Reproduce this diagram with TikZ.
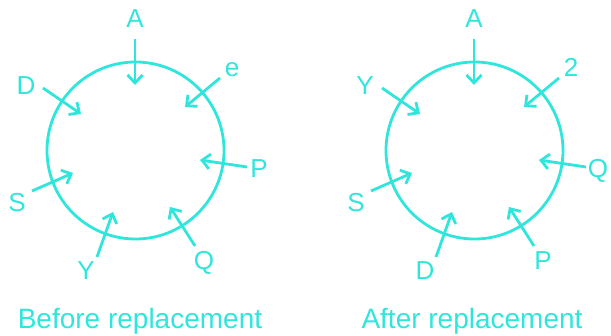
\documentclass[tikz,border=0pt]{standalone}
\usepackage{fontspec}
\setmainfont{Liberation Sans}
\usetikzlibrary{arrows.meta}
\definecolor{ringCyan}{HTML}{30E6DC}

\begin{document}
\begin{tikzpicture}[x=1pt, y=-1pt,
    ring/.style={draw=ringCyan, line width=2.8pt},
    inarrow/.style={draw=ringCyan, line width=2.8pt, -{Straight Barb[length=8pt, width=15pt]}},
    tag/.style={text=ringCyan, font=\fontsize{26}{31}\selectfont, inner sep=0pt, anchor=base},
    caption/.style={text=ringCyan, font=\fontsize{28}{33}\selectfont, inner sep=0pt, anchor=base}]
    \useasboundingbox (0,0) rectangle (611,336);

    \foreach \dx/\cx/\txt/\ta/\tb/\tc/\td/\te/\tf/\tg in
        {0/140/Before replacement/A/e/D/P/S/Y/Q,
         339/133/After replacement/A/2/Y/Q/S/D/P} {
    \begin{scope}[xshift=\dx]
        \draw[ring] (135.5,150.5) circle[radius=88.5];

        % labels round the ring
        \node[tag] (ta) at (135,28) {\ta};
        \node[tag] (tb) at (232,77) {\tb};
        \node[tag] (tc) at (26,95) {\tc};
        \node[tag] (td) at (259,178) {\td};
        \node[tag] (te) at (17,212) {\te};
        \node[tag] (tf) at (86,280) {\tf};
        \node[tag] (tg) at (204,270) {\tg};

        % arrow ends
        \coordinate (sa) at (135,39);  \coordinate (ea) at (135,85);
        \coordinate (sb) at (220,78);  \coordinate (eb) at (185,107);
        \coordinate (sc) at (43,88);   \coordinate (ec) at (81,114);
        \coordinate (sd) at (247,167); \coordinate (ed) at (200,160);
        \coordinate (se) at (32,191);  \coordinate (ee) at (73,173);
        \coordinate (sf) at (97,257);  \coordinate (ef) at (113,212);
        \coordinate (sg) at (195,246); \coordinate (eg) at (170,207);

        \foreach \k in {a,b,c,d,e,f,g}
            \draw[inarrow] (s\k) -- (e\k);

        \node[caption] (cap) at (\cx,329) {\txt};
    \end{scope}
    }
\end{tikzpicture}
\end{document}
